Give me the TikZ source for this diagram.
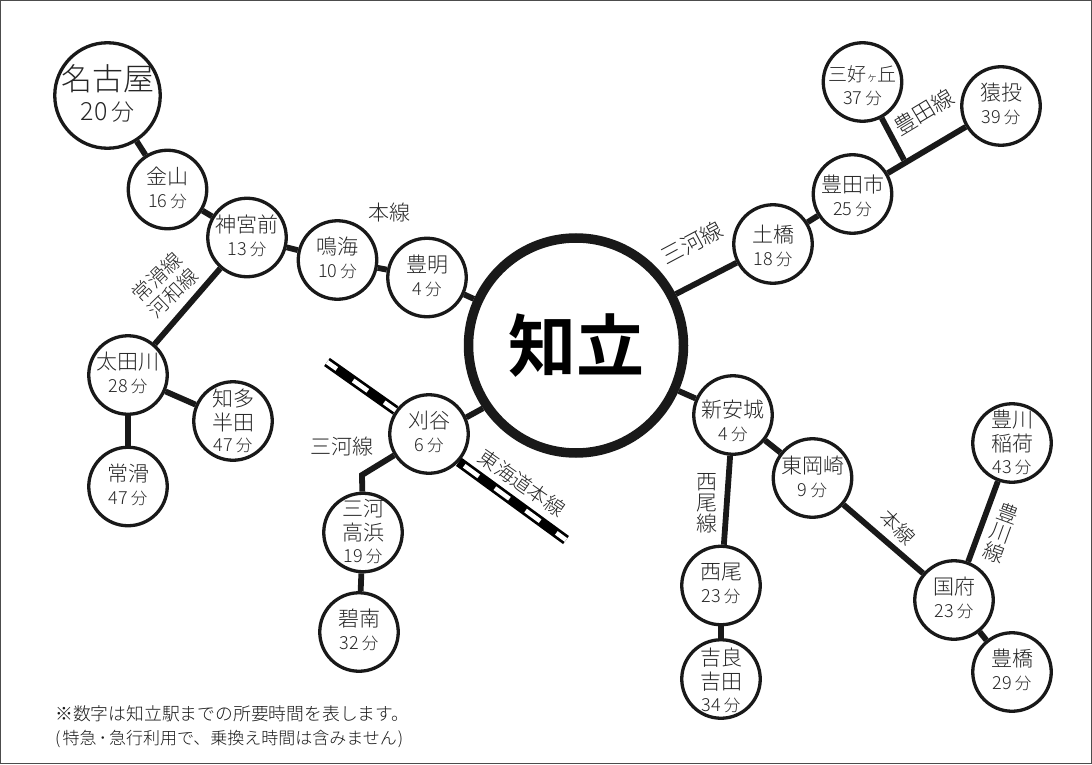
\documentclass[tikz,border=0pt]{standalone}
\usepackage{fontspec}
\setmainfont{Noto Sans CJK JP}[UprightFont=* Light,BoldFont=* Bold]
\tikzset{
  x=1pt,y=-1pt,
  st/.style={circle,draw=black!90,line width=3.3pt,fill=white,minimum size=#1,inner sep=0pt,font=\fontsize{21}{23}\selectfont,text=black!85},
  st/.default=78.5pt,
  three/.style={font=\fontsize{21}{21.5}\selectfont},
  link/.style={line width=5.8pt,black!90},
  rail/.style={line width=10pt,black,postaction={draw,white,line width=4.5pt,dash pattern=on 18pt off 20pt,dash phase=6pt}},
  lab/.style={font=\fontsize{21}{21}\selectfont,text=black!85,inner sep=0pt,align=center},
}
\newcommand{\mn}[1]{{\fontsize{18}{20}\selectfont #1\hspace{3pt}{\fontsize{16.5}{20}\selectfont 分}}}
% station text: #1 = how far below the circle's centre it sits (pixels)
\newcommand{\stn}[2][1]{\raisebox{\dimexpr-#1pt-5pt\relax}[0pt][0pt]{\begin{tabular}{@{}c@{}}#2\end{tabular}}}
\begin{document}
\begin{tikzpicture}
\useasboundingbox (0,0) rectangle (1092,765);
\draw[black!70,line width=1pt] (0.5,0.5) rectangle (1091.5,763.5);
% hub
\node[circle,draw=black!90,line width=9.5pt,fill=white,minimum size=215pt,inner sep=0pt,font=\fontsize{68}{70}\selectfont\bfseries] (hub) at (576,345.5) {知立};
% stations
\node[st=105.5pt,font=\fontsize{31}{30}\selectfont] (nagoya) at (107.5,95.5) {\stn[2.5]{名古屋\\{\fontsize{25}{28}\selectfont 20\hspace{4pt}{\fontsize{23}{28}\selectfont 分}}}};
\node[st] (kanayama) at (167.5,189.5) {\stn[1.5]{金山\\\mn{16}}};
\node[st] (jingu) at (247,237.5) {\stn{神宮前\\\mn{13}}};
\node[st] (narumi) at (337.5,260) {\stn{鳴海\\\mn{10}}};
\node[st] (toyoake) at (427,277.5) {\stn[1.5]{豊明\\\mn{4}}};
\node[st] (ota) at (128,375) {\stn{太田川\\\mn{28}}};
\node[st,three] (chita) at (233,421) {\stn[2.5]{知多\\半田\\\mn{47}}};
\node[st] (tokoname) at (128,486.5) {\stn{常滑\\\mn{47}}};
\node[st] (kariya) at (429,434) {\stn{刈谷\\\mn{6}}};
\node[st,three] (takahama) at (363,532.5) {\stn[2]{三河\\高浜\\\mn{19}}};
\node[st] (hekinan) at (359,632) {\stn{碧南\\\mn{32}}};
\node[st] (shinanjo) at (733,415) {\stn[9]{新安城\\\mn{4}}};
\node[st] (higashi) at (812.5,478) {\stn[1.5]{東岡崎\\\mn{9}}};
\node[st] (nishio) at (721,585.5) {\stn{西尾\\\mn{23}}};
\node[st,three] (kira) at (721,679) {\stn[4]{吉良\\吉田\\\mn{34}}};
\node[st] (kou) at (954,600) {\stn[0.5]{国府\\\mn{23}}};
\node[st] (toyohashi) at (1012,672) {\stn{豊橋\\\mn{29}}};
\node[st,three] (inari) at (1012,443) {\stn[2]{豊川\\稲荷\\\mn{43}}};
\node[st] (dobashi) at (773,244) {\stn[4.5]{土橋\\\mn{18}}};
\node[st] (toyota) at (852.5,194) {\stn[4.5]{豊田市\\\mn{25}}};
\node[st] (miyoshi) at (862.5,82) {\stn[6.5]{{\fontsize{19}{23}\selectfont 三好{\fontsize{11}{23}\selectfont ヶ}丘}\\\mn{37}}};
\node[st] (sanage) at (1001,106) {\stn[0.5]{猿投\\\mn{39}}};
% free points
\coordinate (bend) at (362,475);
\coordinate (junction) at (904,160);
\coordinate (railnw) at (327,362);
\coordinate (railse) at (566,540);
% connectors
\draw[link] (nagoya) -- (kanayama);
\draw[link] (kanayama) -- (jingu);
\draw[link] (jingu) -- (narumi);
\draw[link] (narumi) -- (toyoake);
\draw[link] (toyoake) -- (hub);
\draw[link] (jingu) -- (ota);
\draw[link] (ota) -- (chita);
\draw[link] (ota) -- (tokoname);
\draw[link] (kariya.24) -- (hub.214);
\draw[link,line join=miter] (kariya) -- (bend) -- (takahama);
\draw[link] (takahama) -- (hekinan);
\draw[link] (hub) -- (shinanjo);
\draw[link] (shinanjo) -- (higashi);
\draw[link] (shinanjo) -- (nishio);
\draw[link] (nishio) -- (kira);
\draw[link] (higashi) -- (kou);
\draw[link] (kou) -- (toyohashi);
\draw[link] (kou) -- (inari);
\draw[link] (hub) -- (dobashi);
\draw[link] (dobashi) -- (toyota);
\draw[link] (toyota) -- (sanage);
\draw[link] (junction) -- (miyoshi);
\draw[rail] (railnw) -- (kariya);
\draw[rail] (railse) -- (kariya.-43);
% labels
\node[lab] (l1) at (389,213) {本線};
\node[lab,rotate=44,font=\fontsize{20}{23}\selectfont] (l2) at (165,285) {常滑線\\河和線};
\node[lab] (l3) at (342,447) {三河線};
\node[lab,rotate=-35,font=\fontsize{20}{21}\selectfont] (l4) at (522,483) {東海道本線};
\node[lab,rotate=28,font=\fontsize{22}{22}\selectfont] (l5) at (692,243) {三河線};
\node[lab,rotate=31,font=\fontsize{22}{22}\selectfont] (l7) at (924,112) {豊田線};
\node[lab] (l8) at (707,503) {西\\尾\\線};
\node[lab,rotate=-45,font=\fontsize{20}{21}\selectfont] (l9) at (898,527) {本線};
\node[lab,rotate=-20] (l10) at (1001,533) {豊\\川\\線};
\node[font=\fontsize{17.8}{24}\selectfont,text=black!90,align=left,anchor=west,inner sep=0pt] (note) at (55,727) {※数字は知立駅までの所要時間を表します。\\{\fontsize{17}{24}\selectfont (\hspace{2pt}特急\hspace{2pt}･\hspace{2pt}急行利用で、乗換え時間は含みません\hspace{1pt})}};
\end{tikzpicture}
\end{document}
